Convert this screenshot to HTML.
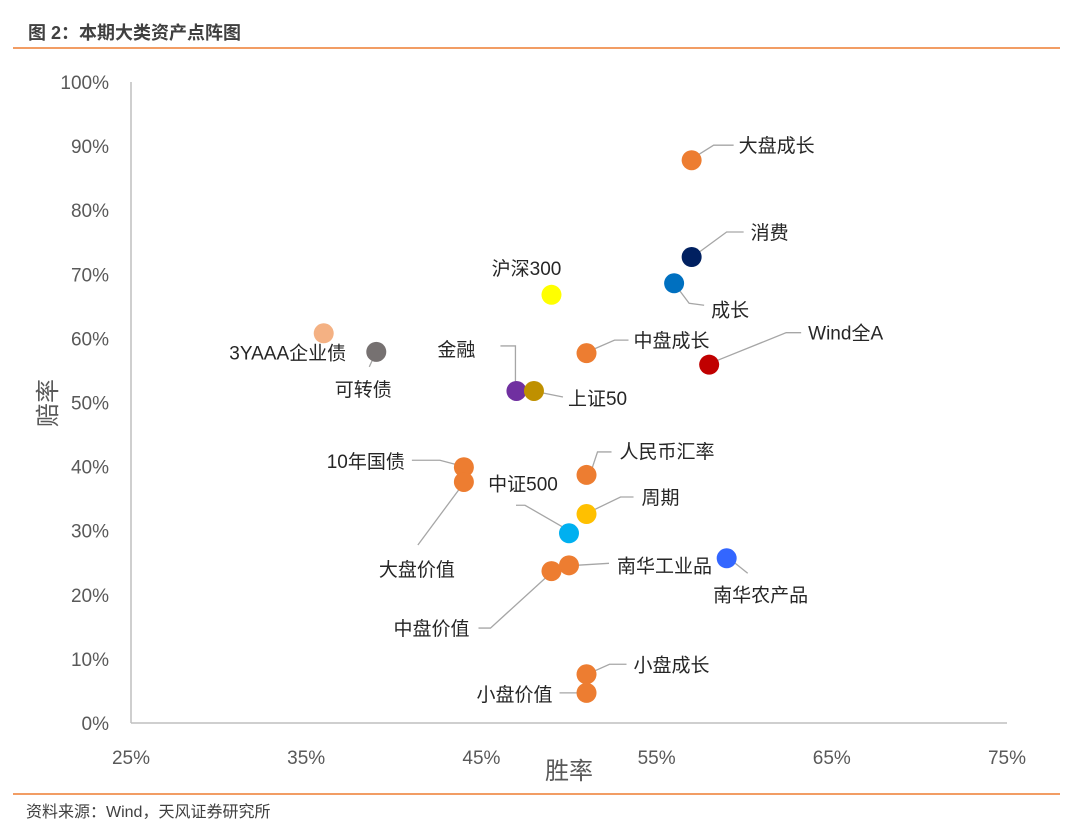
<!DOCTYPE html>
<html><head><meta charset="utf-8"><style>
body{margin:0;background:#fff;width:1080px;height:834px;overflow:hidden;font-family:"Liberation Sans","Noto Sans CJK SC",sans-serif}
svg text{font-family:"Liberation Sans","Noto Sans CJK SC",sans-serif}
</style></head><body>
<svg id="chart" width="1080" height="834" xmlns="http://www.w3.org/2000/svg">
<text x="28" y="39" font-size="18" font-weight="bold" fill="#404040">图 2：本期大类资产点阵图</text>
<line x1="13" y1="48" x2="1060" y2="48" stroke="#ED7D31" stroke-width="1.5"/>
<line x1="131" y1="82" x2="131" y2="723" stroke="#BFBFBF" stroke-width="1.5"/>
<line x1="131" y1="723" x2="1007" y2="723" stroke="#BFBFBF" stroke-width="1.5"/>
<g id="yt"></g><g id="xt"></g><g id="lines"></g><g id="pts"></g><g id="labs"></g>
<text x="569" y="779" font-size="24" fill="#595959" text-anchor="middle">胜率</text>
<text transform="translate(56,403) rotate(-90)" font-size="24" fill="#595959" text-anchor="middle">赔率</text>
<line x1="13" y1="794" x2="1060" y2="794" stroke="#ED7D31" stroke-width="1.5"/>
<text x="26" y="817" font-size="16" fill="#404040">资料来源：Wind，天风证券研究所</text>
</svg>
<script>
const names=["大盘成长","消费","成长","沪深300","3YAAA企业债","可转债","中盘成长","Wind全A","金融","上证50","10年国债","大盘价值","人民币汇率","周期","中证500","南华农产品","南华工业品","中盘价值","小盘成长","小盘价值"];
const winRate=[57,57,56,49,36,39,51,58,47,48,44,44,51,51,50,59,50,49,51,51];
const odds=[87.8,72.7,68.6,66.8,60.8,57.9,57.7,55.9,51.8,51.8,39.9,37.6,38.7,32.6,29.6,25.7,24.6,23.7,7.6,4.7];
const colors=["#ED7D31","#002060","#0070C0","#FFFF00","#F4B183","#767171","#ED7D31","#C00000","#7030A0","#BF9000","#ED7D31","#ED7D31","#ED7D31","#FFC000","#00B0F0","#3366FF","#ED7D31","#ED7D31","#ED7D31","#ED7D31"];
const xTicks=["25%","35%","45%","55%","65%","75%"];
const yTicks=["0%","10%","20%","30%","40%","50%","60%","70%","80%","90%","100%"];
// label placement relative to point: [dx,dy,anchor,leader points relative]
const lab=[[47,-15,"start",[[6,-5],[22,-15],[42,-15]]],[59,-25,"start",[[5,-3],[35,-25],[52,-25]]],[37,26,"start",[[3,4],[15,20],[30,22]]],[-25,-27,"middle",null],[-36,19,"middle",null],[-13,37,"middle",[[-2,4],[-7,15]]],[47,-13,"start",[[5,-3],[28,-13],[42,-13]]],[99,-32,"start",[[5,-3],[77,-32],[92,-32]]],[-41,-42,"end",[[-16,-45],[-1,-45],[-1,-6]]],[34,7,"start",[[4,1],[29,6]]],[-59,-6,"end",[[-52,-7],[-24,-7],[-5,-2]]],[-47,87,"middle",[[-3,5],[-46,63]]],[33,-24,"start",[[5,-5],[11,-23],[25,-23]]],[55,-17,"start",[[5,-3],[34,-17],[47,-17]]],[-46,-50,"middle",[[-4,-5],[-44,-28],[-53,-28]]],[34,36,"middle",[[6,3],[21,15]]],[48,0,"start",[[7,0],[40,-2]]],[-82,57,"end",[[-4,5],[-61,57],[-73,57]]],[47,-10,"start",[[5,-2],[23,-10],[40,-10]]],[-34,1,"end",[[-7,0],[-27,0]]]];
const X=v=>131+(v-25)*17.52, Y=v=>723-v*6.41;
const NS="http://www.w3.org/2000/svg";
function mk(t,p,a){const e=document.createElementNS(NS,t);for(const k in a)e.setAttribute(k,a[k]);document.getElementById(p).appendChild(e);return e;}
xTicks.forEach((t,i)=>{const e=mk("text","xt",{x:X(25+i*10),y:764,"font-size":19,fill:"#595959","text-anchor":"middle"});e.textContent=t;

});
yTicks.forEach((t,i)=>{const e=mk("text","yt",{x:109,y:Y(i*10)+7,"font-size":19,fill:"#595959","text-anchor":"end"});e.textContent=t;

});
names.forEach((n,i)=>{const px=X(winRate[i]),py=Y(odds[i]);const L=lab[i];
if(L[3]){const l=mk("polyline","lines",{points:L[3].map(p=>(px+p[0])+","+(py+p[1])).join(" "),fill:"none",stroke:"#A6A6A6","stroke-width":1.3});

}
const c=mk("circle","pts",{cx:px,cy:py,r:10,fill:colors[i]});


const t=mk("text","labs",{x:px+L[0],y:py+L[1]+7,"font-size":19,fill:"#262626","text-anchor":L[2]});t.textContent=n;

});
</script>
</body></html>
